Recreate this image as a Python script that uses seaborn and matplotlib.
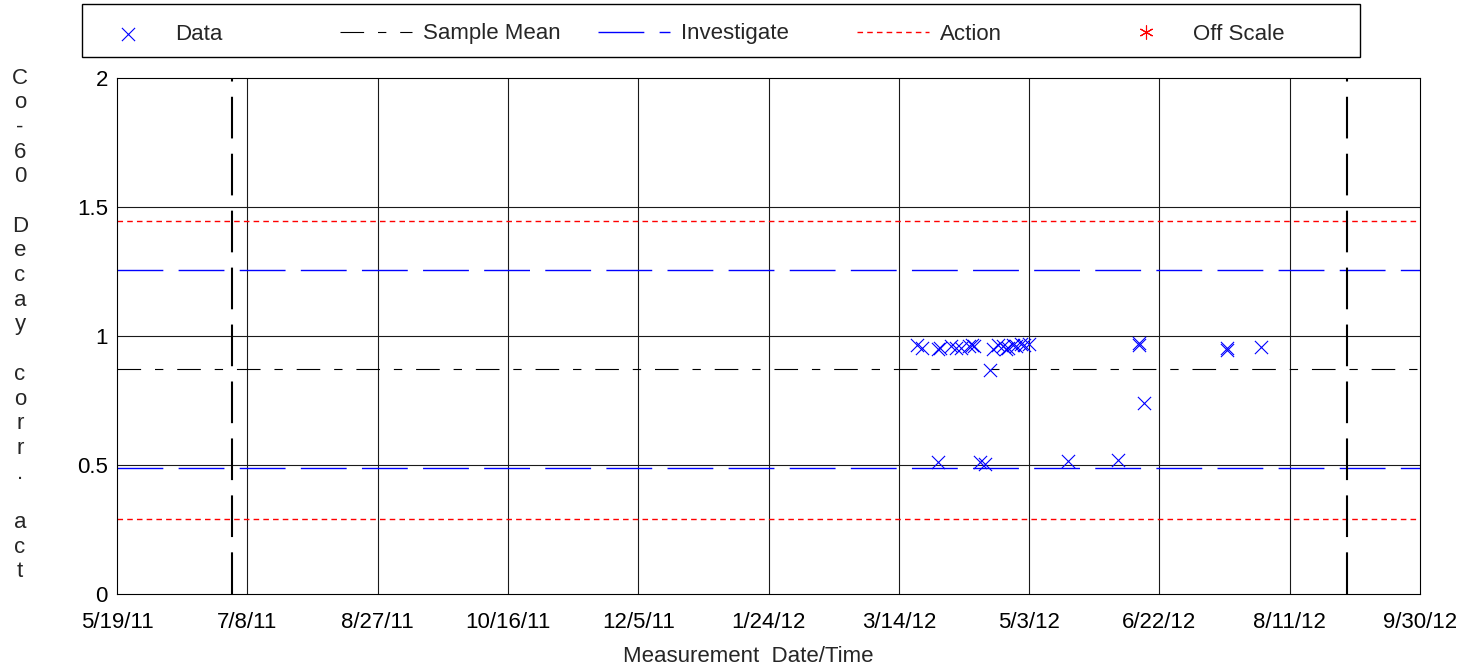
import numpy as np
import pandas as pd
import matplotlib
matplotlib.use('Agg')
import matplotlib.pyplot as plt
import matplotlib.dates as mdates
from matplotlib.patches import Rectangle
from matplotlib.ticker import FuncFormatter
import seaborn as sns

# ---- data ----
meas_dates = ['2012-03-21', '2012-03-23', '2012-03-29', '2012-03-30', '2012-04-03',
              '2012-04-05', '2012-04-07', '2012-04-10', '2012-04-11', '2012-04-12',
              '2012-04-19', '2012-04-21', '2012-04-23', '2012-04-24', '2012-04-25',
              '2012-04-27', '2012-04-28', '2012-04-30', '2012-05-01', '2012-05-03',
              '2012-04-18', '2012-03-29', '2012-04-14', '2012-04-16', '2012-05-18',
              '2012-06-06', '2012-06-14', '2012-06-14', '2012-06-16', '2012-07-18',
              '2012-07-18', '2012-07-31']
decay_corr_act = [0.965, 0.955, 0.950, 0.955, 0.960,
                  0.955, 0.955, 0.960, 0.965, 0.960,
                  0.950, 0.965, 0.960, 0.950, 0.955,
                  0.965, 0.960, 0.970, 0.965, 0.970,
                  0.870, 0.510, 0.510, 0.505, 0.515,
                  0.518, 0.973, 0.965, 0.740, 0.955,
                  0.945, 0.957]

sample_mean = 0.872
investigate_limits = [0.488, 1.256]
action_limits = [0.291, 1.446]
window_limits = ['2011-07-02', '2012-09-02']

x_start = '2011-05-19'
x_end = '2012-09-30'
y_ticks = [0, 0.5, 1, 1.5, 2]
y_ticklabels = ['0', '0.5', '1', '1.5', '2']
y_label = 'Co-60 Decay corr. act'
legend_order = ['Data', 'Sample Mean', 'Investigate', 'Action', 'Off Scale']

df = pd.DataFrame({'date': pd.to_datetime(meas_dates), 'value': decay_corr_act})

# ---- style ----
sns.set_style('white')
plt.rcParams['font.family'] = ['Liberation Sans', 'DejaVu Sans']
plt.rcParams['lines.scale_dashes'] = False

W, H = 1480, 669
fig = plt.figure(figsize=(W / 100, H / 100), dpi=100)
ax = fig.add_axes([117 / W, 1 - 594 / H, 1303 / W, 516 / H])

# grid
x_ticks = pd.date_range(x_start, x_end, freq='50D')
for t in x_ticks[1:-1]:
    ax.axvline(t, color='0.1', lw=0.8, zorder=0)
for v in y_ticks[1:-1]:
    ax.axhline(v, color='0.1', lw=0.8, zorder=0)

# reference lines
ax.axhline(sample_mean, color='black', lw=0.8, linestyle=(0, (17, 10, 6, 10)),
           label='Sample Mean', zorder=1)
for i, lim in enumerate(investigate_limits):
    ax.axhline(lim, color='#0000ff', lw=1.0, linestyle=(0, (33, 11)),
               label='Investigate' if i == 0 else None, zorder=1)
for i, lim in enumerate(action_limits):
    ax.axhline(lim, color='#ff0000', lw=1.0, linestyle=(0, (4, 3)),
               label='Action' if i == 0 else None, zorder=1)
for w in window_limits:
    ax.axvline(pd.Timestamp(w), color='black', lw=1.5, linestyle=(0, (30, 11)), zorder=1)

sns.scatterplot(data=df, x='date', y='value', marker='x', color='#0000ff',
                s=90, linewidth=0.8, ax=ax, label='Data', zorder=3)
ax.plot([], [], linestyle='none', marker=(6, 2, 0), color='#ff0000',
        markersize=10, markeredgewidth=0.8, label='Off Scale')

# axes
ax.set_xlim(pd.Timestamp(x_start), pd.Timestamp(x_end))
ax.set_ylim(0, 2)
ax.set_xticks(x_ticks)
ax.xaxis.set_major_formatter(FuncFormatter(
    lambda v, pos: (lambda d: f'{d.month}/{d.day}/{d.year % 100}')(mdates.num2date(v))))
ax.set_yticks(y_ticks)
ax.set_yticklabels(y_ticklabels)
ax.tick_params(axis='both', direction='inout', length=9, width=0.8, labelsize=16,
               colors='black')
ax.tick_params(axis='x', pad=8.5)
ax.tick_params(axis='y', pad=2)
for s in ax.spines.values():
    s.set_color('black')
    s.set_linewidth(0.8)
ax.set_xlabel('Measurement  Date/Time', fontsize=16)
ax.xaxis.set_label_coords((748 - 117) / 1303, -0.1)
ax.set_ylabel('')

fig.text(20 / W, 1 - 325 / H, '\n'.join(y_label), ha='center', va='center',
         fontsize=16, linespacing=1.23)

# legend: framed box with entries at fixed column positions
ax.legend().remove()
handles, labels = ax.get_legend_handles_labels()
hmap = dict(zip(labels, handles))
fig.add_artist(Rectangle((82 / W, 1 - 57 / H), 1278 / W, 53 / H, transform=fig.transFigure,
                         facecolor='white', edgecolor='black', lw=1.0))
col_x = [92, 340, 598, 857, 1110]
for name, cx in zip(legend_order, col_x):
    fig.legend([hmap[name]], [name], loc='center left',
               bbox_to_anchor=(cx / W, 1 - 34 / H), bbox_transform=fig.transFigure,
               fontsize=16, frameon=False, handlelength=3.25, handletextpad=0.5,
               borderpad=0, borderaxespad=0)

fig.savefig('out.png', dpi=100)
